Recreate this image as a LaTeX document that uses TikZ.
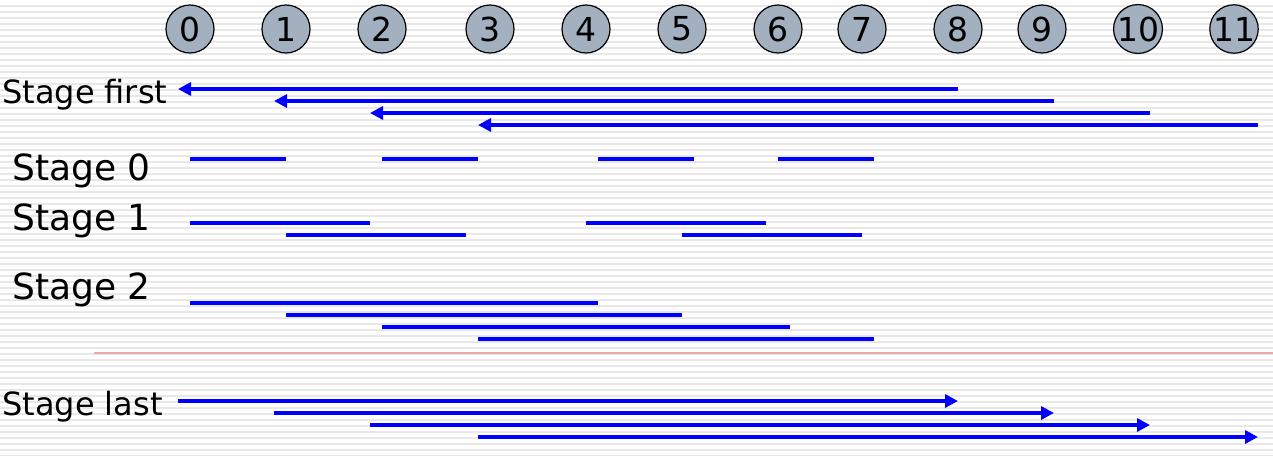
\documentclass[tikz,border=0pt]{standalone}
\usepackage{fontspec}
\setmainfont{DejaVu Sans}
\usetikzlibrary{arrows.meta}
\definecolor{stripe}{RGB}{232,232,232}
\definecolor{ballfill}{RGB}{163,176,192}
\definecolor{sep}{RGB}{232,168,168}
\tikzset{
  ball/.style={circle,draw=black,line width=1.2pt,fill=ballfill,minimum size=48pt,inner sep=0pt,font=\fontsize{33}{33}\selectfont},
  seg/.style={blue,line width=4pt},
  larr/.style={seg,{Triangle[length=13pt,width=13pt]}-},
  rarr/.style={seg,-{Triangle[length=13pt,width=13pt]}},
  lab/.style={anchor=base west,inner sep=0pt,font=\fontsize{32}{32}\selectfont},
  biglab/.style={anchor=base west,inner sep=0pt,font=\fontsize{36}{36}\selectfont}
}
\begin{document}
\begin{tikzpicture}[x=1pt,y=-1pt]
\useasboundingbox (0,0) rectangle (1273,455);
\fill[white] (0,0) rectangle (1273,455);
\foreach \k in {0,...,75}{
  \fill[stripe] (0,{6*\k+4.75}) rectangle (1273,{6*\k+6.5});
}
% time marks
\foreach \n/\x in {0/190,1/286,2/382,3/490,4/586,5/682,6/778,7/862,8/958,9/1042,10/1138,11/1234}{
  \node[ball] (b\n) at (\x,29) {\n};
}
% labels
\node[lab] (lfirst) at (2,103) {Stage first};
\node[biglab] (l0) at (12,180) {Stage 0};
\node[biglab] (l1) at (12,230) {Stage 1};
\node[biglab] (l2) at (12,299) {Stage 2};
\node[lab] (llast) at (2,415) {Stage last};
% stage first
\draw[larr] (178,89) -- (958,89);
\draw[larr] (274,101) -- (1054,101);
\draw[larr] (370,113) -- (1150,113);
\draw[larr] (478,125) -- (1258,125);
% stage 0
\draw[seg] (190,159) -- (286,159);
\draw[seg] (382,159) -- (478,159);
\draw[seg] (598,159) -- (694,159);
\draw[seg] (778,159) -- (874,159);
% stage 1
\draw[seg] (190,223) -- (370,223);
\draw[seg] (286,235) -- (466,235);
\draw[seg] (586,223) -- (766,223);
\draw[seg] (682,235) -- (862,235);
% stage 2
\draw[seg] (190,303) -- (598,303);
\draw[seg] (286,315) -- (682,315);
\draw[seg] (382,327) -- (790,327);
\draw[seg] (478,339) -- (874,339);
% separator
\draw[sep,line width=1.5pt] (94,353) -- (1273,353);
% stage last
\draw[rarr] (178,401) -- (958,401);
\draw[rarr] (274,413) -- (1054,413);
\draw[rarr] (370,425) -- (1150,425);
\draw[rarr] (478,437) -- (1258,437);
\end{tikzpicture}
\end{document}
